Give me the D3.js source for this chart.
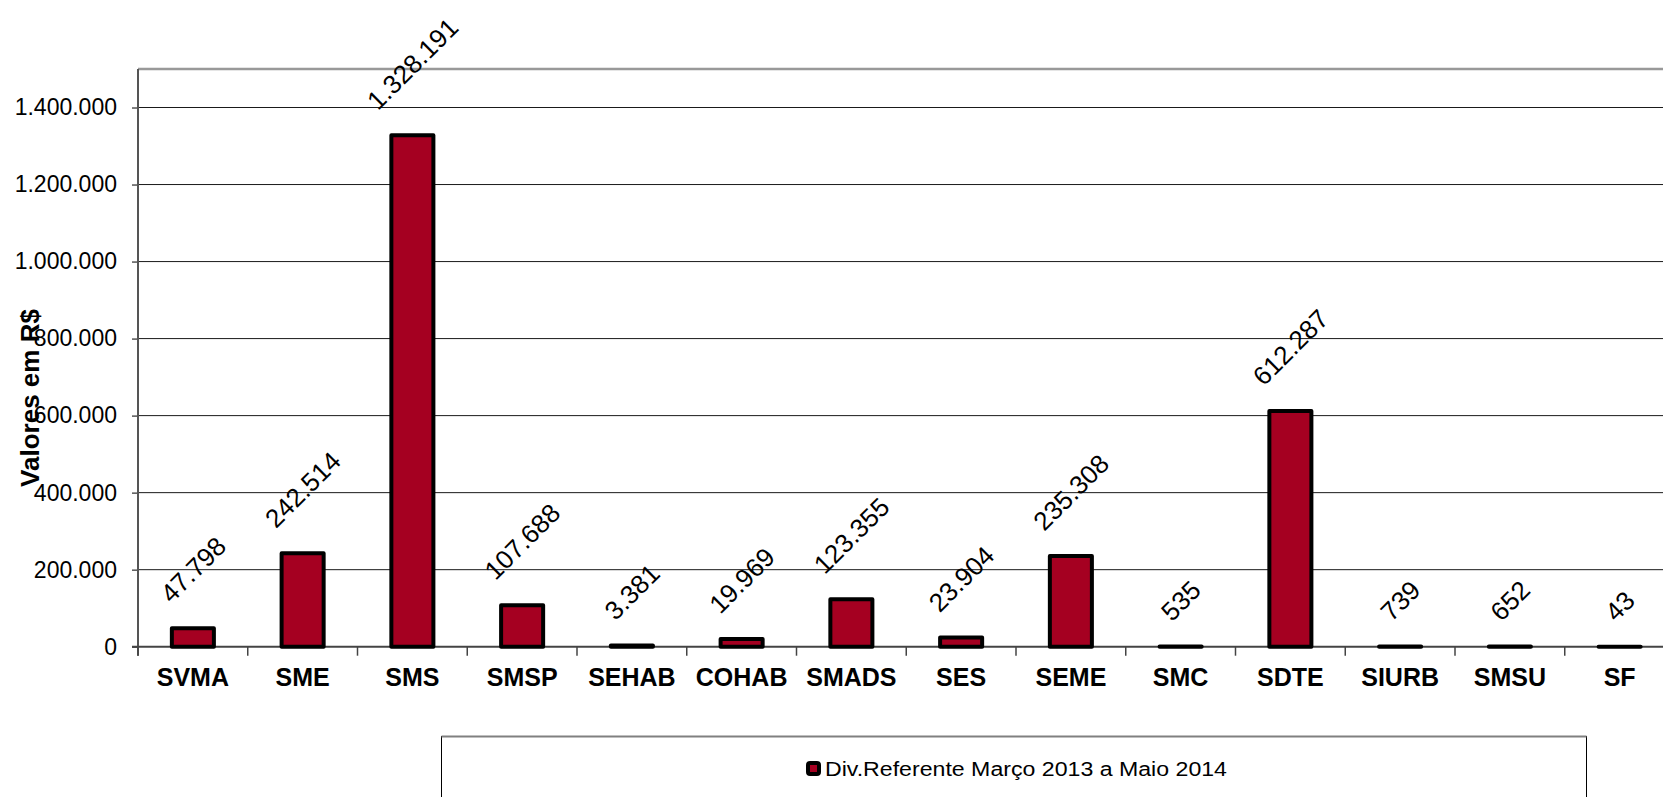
<!DOCTYPE html>
<html>
<head>
<meta charset="utf-8">
<script src="https://cdn.jsdelivr.net/npm/d3@7"></script>
<style>
  body { margin: 0; background: #fff; }
  text { font-family: "Liberation Sans", Arial, sans-serif; fill: #000; }
</style>
</head>
<body>
<div id="chart"></div>
<script>
// data
var categories = ["SVMA", "SME", "SMS", "SMSP", "SEHAB", "COHAB", "SMADS", "SES", "SEME", "SMC", "SDTE", "SIURB", "SMSU", "SF"];
var values = [47798, 242514, 1328191, 107688, 3381, 19969, 123355, 23904, 235308, 535, 612287, 739, 652, 43];
var yTicks = [0, 200000, 400000, 600000, 800000, 1000000, 1200000, 1400000];
var seriesName = "Div.Referente Março 2013 a Maio 2014";
var yTitle = "Valores em R$";

var W = 1663, H = 797;
var plot = {left: 138, right: 1674.5, top: 69, bottom: 646.7};
var barColor = "#A50021";

// brazilian number format: 1.328.191
var ptBR = d3.formatLocale({decimal: ",", thousands: ".", grouping: [3], currency: ["R$", ""]});
var fmt = ptBR.format(",d");

var svg = d3.select("#chart")
  .append("svg")
  .attr("width", W)
  .attr("height", H);

// scales
var xCat = d3.scaleBand()
  .domain(categories)
  .range([plot.left, plot.right])
  .padding(0);

var xBar = d3.scaleBand()
  .domain(categories)
  .range([plot.left, plot.right])
  .paddingInner(0.617)
  .paddingOuter(0.3085);

var y = d3.scaleLinear()
  .domain([0, 1500000])
  .range([plot.bottom, plot.top]);

// gridlines
svg.append("g")
  .selectAll("line")
  .data(yTicks.filter(function(d) { return d > 0; }))
  .enter()
  .append("line")
    .attr("x1", plot.left)
    .attr("x2", plot.right)
    .attr("y1", function(d) { return y(d); })
    .attr("y2", function(d) { return y(d); })
    .attr("stroke", "#1a1a1a")
    .attr("stroke-width", 1);

// top border of plot area
svg.append("line")
  .attr("x1", plot.left)
  .attr("x2", plot.right)
  .attr("y1", y(1500000))
  .attr("y2", y(1500000))
  .attr("stroke", "#999")
  .attr("stroke-width", 2.5);

// y axis
var yAxis = svg.append("g")
  .attr("transform", "translate(" + plot.left + ",0)")
  .call(d3.axisLeft(y).tickValues(yTicks).tickFormat(fmt).tickSize(6).tickPadding(15).tickSizeOuter(0));

yAxis.select(".domain")
  .attr("stroke", "#555")
  .attr("stroke-width", 2)
  .attr("d", "M0," + plot.top + "V" + (plot.bottom + 9));
yAxis.selectAll(".tick line").attr("stroke", "#555").attr("stroke-width", 1.5);
yAxis.selectAll(".tick text")
  .style("font-size", "23px")
  .style("font-family", "'Liberation Sans', Arial, sans-serif")
  .attr("fill", "#000");

// x axis baseline
svg.append("line")
  .attr("x1", plot.left - 6)
  .attr("x2", plot.right)
  .attr("y1", y(0))
  .attr("y2", y(0))
  .attr("stroke", "#444")
  .attr("stroke-width", 2);

// boundary ticks between categories
svg.append("g")
  .selectAll("line")
  .data(categories)
  .enter()
  .append("line")
    .attr("x1", function(d) { return xCat(d); })
    .attr("x2", function(d) { return xCat(d); })
    .attr("y1", y(0))
    .attr("y2", y(0) + 9)
    .attr("stroke", "#444")
    .attr("stroke-width", 1.5);

// category labels
var xAxis = svg.append("g")
  .attr("transform", "translate(0," + y(0) + ")")
  .call(d3.axisBottom(xCat).tickSize(0).tickPadding(22));
xAxis.select(".domain").remove();
xAxis.selectAll(".tick text")
  .style("font-size", "25px")
  .style("font-weight", "bold")
  .style("font-family", "'Liberation Sans', Arial, sans-serif")
  .attr("fill", "#000");

// bars
svg.append("g")
  .selectAll("rect")
  .data(values)
  .enter()
  .append("rect")
    .attr("x", function(d, i) { return xBar(categories[i]); })
    .attr("y", function(d) { return y(d); })
    .attr("width", xBar.bandwidth())
    .attr("height", function(d) { return y(0) - y(d); })
    .attr("fill", barColor)
    .attr("stroke", "#000")
    .attr("stroke-width", 4)
    .attr("stroke-linejoin", "round");

// value labels, rotated 45 degrees and centred over each bar
var labelSize = 26;
svg.append("g")
  .selectAll("text")
  .data(values)
  .enter()
  .append("text")
    .attr("text-anchor", "middle")
    .attr("dy", "0.36em")
    .style("font-size", labelSize + "px")
    .text(function(d) { return fmt(d); })
    .each(function(d, i) {
      var w = this.getComputedTextLength();
      var h = labelSize * 0.72;
      var cx = xBar(categories[i]) + xBar.bandwidth() / 2;
      var cy = y(d) - 24 - (w + h) / (2 * Math.SQRT2);
      d3.select(this)
        .attr("transform", "translate(" + cx + "," + cy + ") rotate(-45)");
    });

// y axis title
svg.append("text")
  .attr("transform", "translate(39,398) rotate(-90)")
  .attr("text-anchor", "middle")
  .style("font-size", "26px")
  .style("font-weight", "bold")
  .text(yTitle);

// legend
var legend = svg.append("g").attr("class", "legend");
legend.append("rect")
  .attr("x", 441.5)
  .attr("y", 736.5)
  .attr("width", 1145)
  .attr("height", 80)
  .attr("fill", "#fff")
  .attr("stroke", "#000")
  .attr("stroke-width", 1);
legend.append("line")
  .attr("x1", 441.5)
  .attr("x2", 1586.5)
  .attr("y1", 736.5)
  .attr("y2", 736.5)
  .attr("stroke", "#808080")
  .attr("stroke-width", 2);
legend.append("rect")
  .attr("x", 808)
  .attr("y", 763)
  .attr("width", 11)
  .attr("height", 11)
  .attr("rx", 2)
  .attr("fill", barColor)
  .attr("stroke", "#000")
  .attr("stroke-width", 4);
legend.append("text")
  .attr("x", 825)
  .attr("y", 776)
  .attr("textLength", 402)
  .attr("lengthAdjust", "spacingAndGlyphs")
  .style("font-size", "20px")
  .text(seriesName);
</script>
</body>
</html>
